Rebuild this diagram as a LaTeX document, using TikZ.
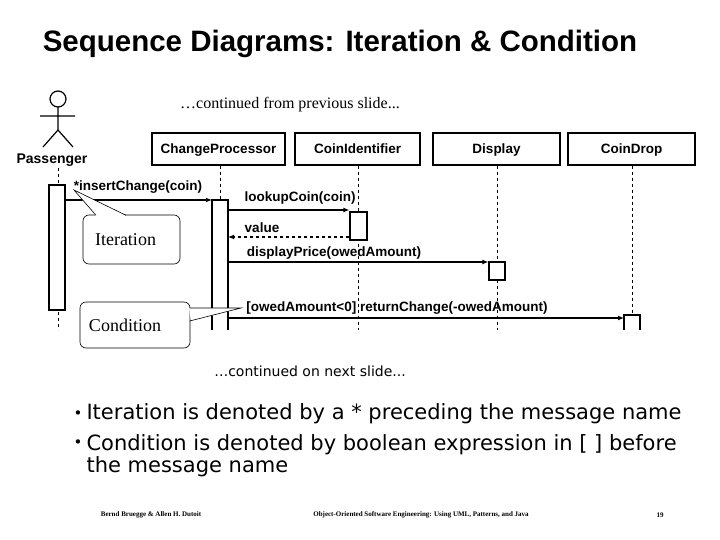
\documentclass[tikz,border=0pt]{standalone}
\usepackage{fontspec}
\setmainfont{Liberation Serif}
\setsansfont{Liberation Sans}
\newfontfamily\djv{DejaVu Sans}
\usetikzlibrary{arrows.meta}
\tikzset{
  obj/.style={draw,line width=1.2pt,minimum height=32pt,text depth=0pt,font=\sffamily\bfseries\fontsize{13.5}{15}\selectfont},
  act/.style={draw,line width=1.2pt,fill=white},
  life/.style={dashed,line width=0.7pt},
  msg/.style={line width=1.2pt,-{Latex[length=6pt,width=5pt]}},
  lbl/.style={font=\sffamily\bfseries\fontsize{13.5}{15}\selectfont,inner sep=1pt},
  note/.style={draw,rounded corners=6pt,fill=white,line width=0.6pt,font=\fontsize{18}{20}\selectfont}
}
\begin{document}
\begin{tikzpicture}[x=1pt,y=-1pt]
	\useasboundingbox (0,0) rectangle (720,540);
	\node (title) at (340,44) {\sffamily\bfseries\fontsize{29.5}{32}\selectfont Sequence Diagrams: Iteration \& Condition};
	\node (prev) at (290,105) {\fontsize{16}{18}\selectfont \ldots continued from previous slide...};
	% actor
	\draw[line width=1.2pt] (58,99) circle (8);
	\draw[line width=1.2pt] (58,107) -- (58,130) (40,116) -- (75,116) (43,147) -- (58,130) -- (73,147);
	\node[font=\sffamily\bfseries\fontsize{14}{16}\selectfont] (pass) at (52,160) {Passenger};
	% objects
	\node[obj,minimum width=133pt] (cp) at (218.5,149) {ChangeProcessor};
	\node[obj,minimum width=125pt] (ci) at (357.5,149) {CoinIdentifier};
	\node[obj,minimum width=127pt] (disp) at (496.5,149) {Display};
	\node[obj,minimum width=127pt] (cd) at (631.5,149) {CoinDrop};
	% lifelines
	\coordinate (pe) at (58,330);
	\draw[life] (58,168) -- (pe);
	\draw[life] (cp.south -| 220,0) -- (220,330);
	\draw[life] (ci.south -| 358,0) -- (358,330);
	\draw[life] (disp.south -| 497,0) -- (497,330);
	\draw[life] (cd.south -| 632,0) -- (632,330);
	% activations
	\node[act,minimum width=16pt,minimum height=125pt,inner sep=0] (apass) at (57,247.5) {};
	\draw[act] (212,330) -- (212,200) -- (228,200) -- (228,330);
	\node[act,minimum width=17pt,minimum height=28pt,inner sep=0] (aci) at (358.5,226) {};
	\node[act,minimum width=16pt,minimum height=18pt,inner sep=0] (adisp) at (497,271) {};
	\draw[act] (624,330) -- (624,315) -- (640,315) -- (640,330);
	% messages
	\coordinate (c1) at (212,200);
	\coordinate (c2) at (228,210);
	\coordinate (c3) at (228,237);
	\coordinate (c4) at (228,262);
	\coordinate (c5) at (228,318);
	\coordinate (d5) at (624,318);
	\draw[msg] (apass.east |- c1) -- (c1);
	\node[lbl] (m1) at (138,187) {*insertChange(coin)};
	\draw[msg] (c2) -- (aci.west |- c2);
	\node[lbl] (m2) at (300,198) {lookupCoin(coin)};
	\draw[msg,dashed] (aci.west |- c3) -- (c3);
	\node[lbl] (m3) at (262,228) {value};
	\draw[msg] (c4) -- (adisp.west |- c4);
	\node[lbl] (m4) at (334,253) {displayPrice(owedAmount)};
	\draw[msg] (c5) -- (d5);
	\node[lbl] (m5) at (397,308) {[owedAmount<0] returnChange(-owedAmount)};
	% notes
	\node[note,minimum width=97pt,minimum height=49pt] (iter) at (131.5,239.5) {\hspace*{-12pt}Iteration};
	\fill[white] (96,216) -- (74,190) -- (126,216) -- cycle;
	\draw[line width=0.6pt] (96,215.3) -- (74,190) -- (126,215.3);
	\node[note,minimum width=110pt,minimum height=46pt] (cond) at (135,325) {\hspace*{-20pt}Condition};
	\fill[white] (189,308) -- (241,308) -- (191,321) -- cycle;
	\draw[line width=0.6pt] (189.7,308) -- (241,308) -- (189.7,321);
	\node (next) at (310,371) {\djv\fontsize{14}{16}\selectfont …continued on next slide...};
	% bullets
	\node[anchor=west,font=\djv\fontsize{15}{17}\selectfont] (d1) at (70,415) {\textbullet};
	\node[anchor=west,font=\djv\fontsize{21}{22}\selectfont] (b1) at (83,414) {Iteration is denoted by a * preceding the message name};
	\node[anchor=west,font=\djv\fontsize{15}{17}\selectfont] (d2) at (70,444) {\textbullet};
	\node[anchor=north west,align=left,font=\djv\fontsize{21}{22}\selectfont] (b2) at (83,431) {Condition is denoted by boolean expression in [ ] before\\the message name};
	% footer
	\node[font=\bfseries\fontsize{7}{8}\selectfont] (f1) at (151,515) {Bernd Bruegge \& Allen H. Dutoit};
	\node[font=\bfseries\fontsize{7}{8}\selectfont] (f2) at (421,515) {Object-Oriented Software Engineering: Using UML, Patterns, and Java};
	\node[font=\bfseries\fontsize{7}{8}\selectfont] (f3) at (660,515) {19};
\end{tikzpicture}
\end{document}
